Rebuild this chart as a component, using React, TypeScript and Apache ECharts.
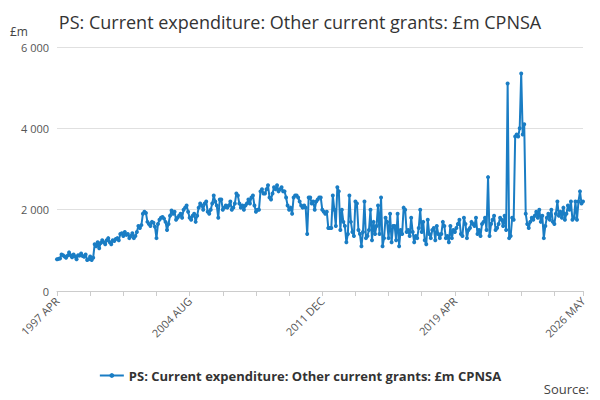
import React, { useEffect, useRef } from "react";
import * as echarts from "echarts";

const MONTHS = ["JAN","FEB","MAR","APR","MAY","JUN","JUL","AUG","SEP","OCT","NOV","DEC"];
const y1997 = [780,790,800,900,880,850,820,870,950];
const y1998 = [880,830,900,850,780,880,870,920,860,840,900,760];
const y1999 = [780,850,760,820,1150,1100,1200,1050,1180,1250,1200,1150];
const y2000 = [1250,1300,1200,1150,1250,1230,1280,1300,1250,1400,1420,1350];
const y2001 = [1450,1380,1400,1300,1350,1420,1300,1350,1450,1600,1550,1620];
const y2002 = [1900,1950,1920,1700,1650,1600,1700,1680,1580,1300,1650,1750];
const y2003 = [1800,1820,1780,1700,1500,1650,1850,1980,1900,1950,1750,1800];
const y2004 = [1850,1900,1800,2000,2050,2100,1950,1800,1750,1850,1900,1700];
const y2005 = [1850,2050,2150,2100,2000,2150,2200,1950,1900,2000,2150,2350];
const y2006 = [2200,2100,1800,2250,2250,2000,2050,2100,2050,2100,2200,2000];
const y2007 = [2050,2150,2400,2350,2150,2050,2100,2000,2100,2150,2250,2150];
const y2008 = [2300,2350,2100,1950,2000,2000,2450,2500,2400,2400,2500,2600];
const y2009 = [2300,2250,2400,2550,2500,2600,2450,2500,2550,2450,2450,2300];
const y2010 = [2100,2000,2050,1900,2300,2350,2350,2300,2200,2100,2050,2100];
const y2011 = [2050,1400,2300,2300,2150,2200,2000,2200,2250,2300,2300,2000];
const y2012 = [1950,1900,1950,1550,1550,1550,2350,2000,1600,2550,2450,1500];
const y2013 = [2000,1700,1600,1200,1400,2350,1700,1450,1350,2200,2150,1500];
const y2014 = [1400,1100,1450,2200,1300,1350,1500,2000,1250,1700,1400,1600];
const y2015 = [2100,1400,2300,1100,1300,1800,1700,1300,1900,1200,1600,1600];
const y2016 = [1250,1900,1100,1500,1400,2050,2000,1450,1500,1350,1800,1450];
const y2017 = [1200,1350,1300,1550,2000,1450,1700,1250,1150,1750,1400,1300];
const y2018 = [1500,1550,1250,1600,1400,1300,1400,1700,1600,1300,1350,1200];
const y2019 = [1600,1300,1500,1450,1550,1650,1750,1400,1350,1800,1650,1300];
const y2020 = [1500,1550,1700,1650,1600,1800,1400,1500,1350,1650,1700,1800];
const y2021 = [1500,2800,1350,1650,1750,1850,1500,1550,1650,1800,1750,1600];
const y2022 = [1850,1500,5100,1300,1350,1800,1750,3800,3850,3800,4000,5350];
const y2023 = [3850,4100,1900,1650,1550,1700,1800,1750,1850,1950,1800,2000];
const y2024 = [1700,1850,1300,1600,1800,1900,1750,2000,1700,1650,1900,2200];
const y2025 = [1850,1950,1800,2050,1750,1900,2100,2000,2200,1750,1800,2200];
const y2026 = [1750,2200,2450,2150,2200];

const values = [
  ...y1997, ...y1998, ...y1999, ...y2000, ...y2001, ...y2002, ...y2003, ...y2004,
  ...y2005, ...y2006, ...y2007, ...y2008, ...y2009, ...y2010, ...y2011, ...y2012,
  ...y2013, ...y2014, ...y2015, ...y2016, ...y2017, ...y2018, ...y2019, ...y2020,
  ...y2021, ...y2022, ...y2023, ...y2024, ...y2025, ...y2026,
];
const categories = values.map((_, i) => {
  const m = 3 + i;
  return `${1997 + Math.floor(m / 12)} ${MONTHS[m % 12]}`;
});

export default function App() {
  const ref = useRef<HTMLDivElement>(null);
  useEffect(() => {
    const chart = echarts.init(ref.current!, null, { renderer: "svg" });
    const last = values.length - 1;
    chart.setOption({
      animation: false,
      title: {
        text: "PS: Current expenditure: Other current grants: £m CPNSA",
        left: "center", top: 8,
        textStyle: { fontFamily: "Open Sans", fontSize: 18, fontWeight: "normal", color: "#333" },
      },
      graphic: [
        { type: "text", left: 10, top: 25, style: { text: "£m", fontFamily: "Open Sans", fontSize: 12, fill: "#444" } },
        { type: "text", right: 11, top: 382, style: { text: "Source:", fontFamily: "Open Sans", fontSize: 13, fill: "#444" } },
      ],
      legend: {
        top: 364, left: "center",
        itemWidth: 24, itemHeight: 6,
        textStyle: { fontFamily: "Open Sans", fontSize: 13, fontWeight: "bold", color: "#333" },
      },
      grid: { left: 57, right: 17, top: 47, bottom: 109 },
      xAxis: {
        type: "category", data: categories, boundaryGap: false,
        axisLine: { lineStyle: { color: "#ccc" } },
        axisTick: { interval: (i: number) => i % 22 === 0 || i === last, lineStyle: { color: "#ccc" }, length: 5 },
        axisLabel: {
          interval: (i: number) => i % 88 === 0 || i === last,
          rotate: 45, color: "#555", fontFamily: "Open Sans", fontSize: 11,
        },
      },
      yAxis: {
        type: "value", min: 0, max: 6000, interval: 2000,
        splitLine: { lineStyle: { color: "#e0e0e0" } },
        axisLabel: {
          color: "#555", fontFamily: "Open Sans", fontSize: 11,
          formatter: (v: number) => (v >= 1000 ? `${Math.floor(v / 1000)} ${String(v % 1000).padStart(3, "0")}` : `${v}`),
        },
      },
      series: [{
        name: "PS: Current expenditure: Other current grants: £m CPNSA",
        type: "line", data: values,
        symbol: "circle", symbolSize: 4, showAllSymbol: true,
        itemStyle: { color: "#1a7dc4" },
        lineStyle: { width: 2, color: "#1a7dc4" },
      }],
    });
    return () => chart.dispose();
  }, []);
  return <div ref={ref} style={{ position: "absolute", left: 0, top: 0, width: 600, height: 400 }} />;
}
